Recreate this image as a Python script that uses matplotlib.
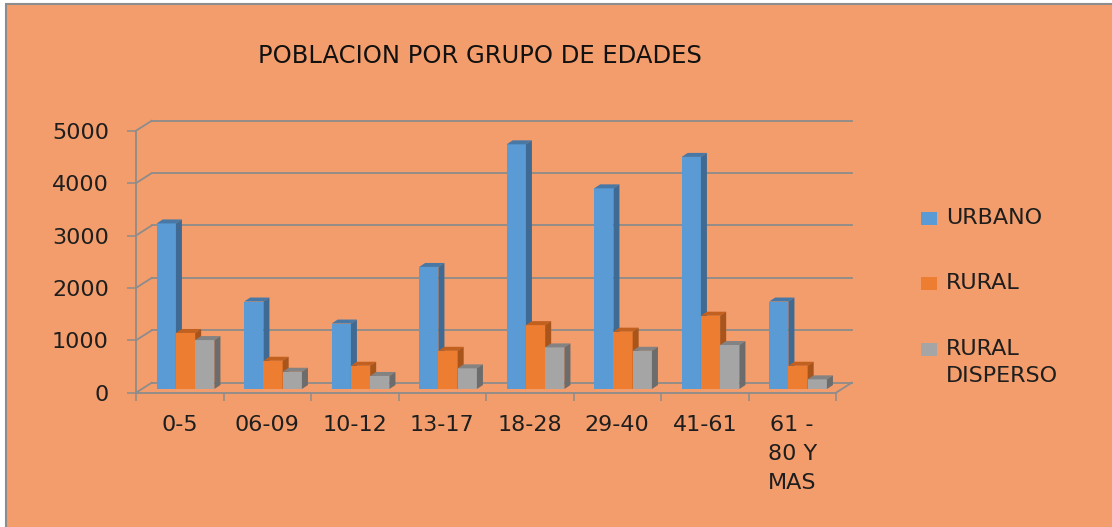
import matplotlib
matplotlib.use('Agg')
import matplotlib.pyplot as plt
from matplotlib.patches import Rectangle, Polygon

grupos = ['0-5', '06-09', '10-12', '13-17', '18-28', '29-40', '41-61', '61 -\n80 Y\nMAS']
urbano = [3160, 1670, 1250, 2330, 4670, 3830, 4430, 1670]
rural = [1070, 540, 445, 730, 1220, 1095, 1400, 445]
rural_disperso = [935, 330, 250, 395, 795, 730, 840, 185]
series = ['URBANO', 'RURAL', 'RURAL\nDISPERSO']
valores = [urbano, rural, rural_disperso]

# front / top / side colours for the fake 3d look
colores = [('#5B9BD5', '#4778A6', '#3F6A93'),
           ('#ED7D31', '#C2601F', '#A9541B'),
           ('#A5A5A5', '#838383', '#6C6C6C')]
fondo = '#F39D6C'
gris = '#8C8C8C'
texto = '#1E1E1E'
fuente = 'DejaVu Sans'

W, H = 1112, 527
fig = plt.figure(figsize=(W / 100, H / 100), dpi=100, facecolor='white')
fig.add_artist(Rectangle((6 / W, -0.1), 1.2, 1 - 4 / H + 0.1, transform=fig.transFigure,
                         fc=fondo, ec=gris, lw=1.5, zorder=-10))

ax = fig.add_axes([136 / W, (H - 392.7) / H, 700 / W, 262 / H])
ax.set_facecolor('none')
n = len(grupos)
ax.set_xlim(0, n)
ax.set_ylim(0, 5000)

# depth of the floor / walls and of the bars (data units)
fx, fy = 0.18, 191
bx, by = 0.066, 70
dx, dy = 0.069, 76
ancho = 0.22

yt = range(0, 5001, 1000)
for v in yt:
    ax.plot([fx, n + fx], [v + fy, v + fy], color=gris, lw=1.3, clip_on=False, zorder=1)
    ax.plot([0, fx], [v, v + fy], color=gris, lw=1.3, clip_on=False, zorder=1)
ax.plot([n, n + fx], [0, fy], color=gris, lw=1.3, clip_on=False, zorder=1)

for k, (vals, (cf, ct, cs)) in enumerate(zip(valores, colores)):
    for i, h in enumerate(vals):
        x0 = i + 0.5 - 1.5 * ancho + k * ancho + bx
        ax.bar(x0, h, width=ancho, bottom=by, align='edge', color=cf, zorder=3 + k, clip_on=False)
        top = h + by
        ax.add_patch(Polygon([(x0, top), (x0 + ancho, top), (x0 + ancho + dx, top + dy), (x0 + dx, top + dy)],
                             closed=True, fc=ct, ec='none', zorder=3 + k, clip_on=False))
        ax.add_patch(Polygon([(x0 + ancho, by), (x0 + ancho + dx, by + dy), (x0 + ancho + dx, top + dy), (x0 + ancho, top)],
                             closed=True, fc=cs, ec='none', zorder=3 + k, clip_on=False))

for s in ['top', 'right']:
    ax.spines[s].set_visible(False)
for s in ['left', 'bottom']:
    ax.spines[s].set_color(gris)
    ax.spines[s].set_linewidth(1.3)

ax.set_yticks(list(yt))
ax.set_yticklabels([str(v) for v in yt], fontsize=16, family=fuente, color=texto)
ax.tick_params(axis='y', length=6.5, width=1.1, color=gris, pad=13)

ax.set_xticks(range(n + 1))
ax.set_xticklabels([])
ax.set_xticks([i + 0.5 for i in range(n)], minor=True)
ax.set_xticklabels(grupos, minor=True, fontsize=16, family=fuente, color=texto, linespacing=1.55, va='top')
ax.tick_params(axis='x', which='major', length=5.5, width=1.1, color=gris)
ax.tick_params(axis='x', which='minor', length=0, pad=16)

fig.text(480 / W, 1 - 63.3 / H, 'POBLACION POR GRUPO DE EDADES', ha='center', va='baseline',
         fontsize=17.5, family=fuente, color='#111111')

# legend
ley_base = [225, 290, 356]
for nombre, (cf, _, _), yy in zip(series, colores, ley_base):
    fig.add_artist(Rectangle((921 / W, 1 - yy / H), 16 / W, 13 / H,
                             transform=fig.transFigure, fc=cf, ec='none'))
    fig.text(946 / W, 1 - (yy - 17) / H, nombre, ha='left', va='top', fontsize=16,
             family=fuente, color=texto, linespacing=1.45)

fig.savefig('out.png', dpi=100, facecolor=fig.get_facecolor())
